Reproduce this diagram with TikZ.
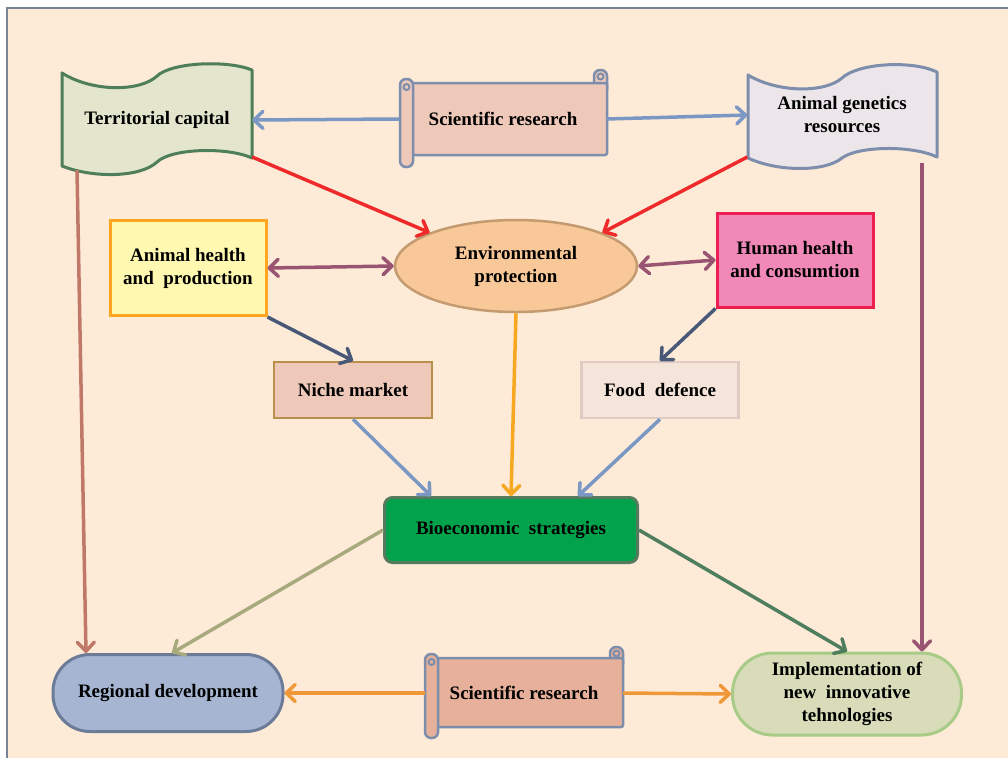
\documentclass[tikz,border=0pt]{standalone}
\usepackage{fontspec}
\setmainfont{Liberation Serif}
\usetikzlibrary{arrows.meta,shapes.geometric}
\definecolor{bgc}{HTML}{FDEBD8}
\definecolor{framec}{HTML}{7A8498}
\definecolor{scrollc}{HTML}{7D8EAC}
\definecolor{tcfill}{HTML}{E3E5CD}
\definecolor{tcdraw}{HTML}{4E7E5A}
\definecolor{srfillA}{HTML}{EEC9BA}
\definecolor{srfillB}{HTML}{E6B09A}
\definecolor{agfill}{HTML}{ECE6EA}
\definecolor{envfill}{HTML}{F8C898}
\definecolor{envdraw}{HTML}{C49A70}
\definecolor{ahfill}{HTML}{FFF8B0}
\definecolor{ahdraw}{HTML}{FFA51F}
\definecolor{hhfill}{HTML}{F088B8}
\definecolor{hhdraw}{HTML}{EE1E50}
\definecolor{nmfill}{HTML}{EEC8B8}
\definecolor{nmdraw}{HTML}{B8904C}
\definecolor{fdfill}{HTML}{F4E4DA}
\definecolor{fddraw}{HTML}{DFCBC3}
\definecolor{biofill}{HTML}{00A24C}
\definecolor{biodraw}{HTML}{557A5E}
\definecolor{rdfill}{HTML}{A6B6D2}
\definecolor{rddraw}{HTML}{6C7C98}
\definecolor{imfill}{HTML}{D8DCB8}
\definecolor{imdraw}{HTML}{A8CC88}
\definecolor{cblue}{HTML}{7B98C4}
\definecolor{cred}{HTML}{EE2A2A}
\definecolor{cmaroon}{HTML}{985470}
\definecolor{cslate}{HTML}{4A5878}
\definecolor{corange}{HTML}{F8A820}
\definecolor{cbrown}{HTML}{C07868}
\definecolor{colive}{HTML}{A8AA7E}
\definecolor{cgreen}{HTML}{4E7E5E}
\definecolor{corangeB}{HTML}{F09838}
% scroll: #1 left x, #2 right x, #3 curl top, #4 body top, #5 body bottom, #6 roll bottom, #7 fill
\newcommand\myscroll[7]{%
  \filldraw[fill=#7, draw=scrollc, line width=2.5pt, rounded corners=6pt]
    ({#2-13},#3) rectangle (#2,{#4+12});
  \filldraw[fill=#7, draw=scrollc, line width=2.5pt, rounded corners=2pt]
    ({#1+6},#4) rectangle (#2,#5);
  \filldraw[fill=#7, draw=scrollc, line width=2.5pt, rounded corners=6pt]
    (#1,{#4-4}) rectangle ({#1+13},#6);
  \draw[scrollc, line width=2pt] ({#1+6.5},{#4+4}) circle[radius=3pt];
  \draw[scrollc, line width=2pt] ({#2-6.5},{#3+6.5}) circle[radius=3pt];
}
\begin{document}
\begin{tikzpicture}[x=1pt,y=-1pt,
  every node/.style={font=\fontsize{19}{23}\selectfont\bfseries, align=center, inner sep=0pt},
  conn/.style={line width=3.5pt, -{Straight Barb[length=9pt,width=17pt,round]}},
  dconn/.style={line width=3.5pt, {Straight Barb[length=9pt,width=17pt,round]}-{Straight Barb[length=9pt,width=17pt,round]}},
  boxA/.style={rectangle, line width=3pt},
  pill/.style={rectangle, rounded corners=37pt, line width=3pt}]
\useasboundingbox (0,0) rectangle (1008,758);
\fill[bgc] (7,8) rectangle (1008,758);
\draw[framec, line width=2pt] (7,758) -- (7,8) -- (1008,8);

% wave flags
\filldraw[fill=tcfill, draw=tcdraw, line width=3pt, line join=round]
  (62,73) .. controls (92,92) and (140,92) .. (157,76)
  .. controls (172,62) and (228,60) .. (252,70) -- (252,158)
  .. controls (228,147) and (172,148) .. (157,162)
  .. controls (140,178) and (92,178) .. (62,166) -- cycle;
\filldraw[fill=agfill, draw=scrollc, line width=3pt, line join=round]
  (748,75) .. controls (778,93) and (825,93) .. (842,78)
  .. controls (858,63) and (912,60) .. (937,72) -- (937,157)
  .. controls (912,145) and (858,146) .. (842,158)
  .. controls (825,172) and (778,172) .. (748,158) -- cycle;

% scrolls
\myscroll{400}{607}{70}{83}{155}{167}{srfillA}
\myscroll{425}{623}{647}{658}{727}{738}{srfillB}

% text nodes
\node[minimum width=190pt, minimum height=100pt] (tc) at (157,120) {Territorial capital};
\node[minimum width=207pt, minimum height=72pt] (sr1) at (503,119) {Scientific research};
\node[minimum width=189pt, minimum height=90pt] (ag) at (842,115) {Animal genetics\\resources};
\node[ellipse, fill=envfill, draw=envdraw, line width=2.5pt, minimum width=242pt, minimum height=92pt] (env) at (516,266) {Environmental\\protection};
\node[boxA, fill=ahfill, draw=ahdraw, minimum width=156pt, minimum height=95pt] (ahp) at (188,268) {Animal health\\and~ production};
\node[boxA, fill=hhfill, draw=hhdraw, minimum width=156pt, minimum height=94pt] (hhc) at (795,260) {Human health\\and consumtion};
\node[boxA, fill=nmfill, draw=nmdraw, line width=2.5pt, minimum width=158pt, minimum height=56pt] (nm) at (353,390) {Niche market};
\node[boxA, fill=fdfill, draw=fddraw, line width=2.5pt, minimum width=157pt, minimum height=56pt] (fd) at (660,390) {Food~ defence};
\node[boxA, rounded corners=8pt, fill=biofill, draw=biodraw, minimum width=253pt, minimum height=65pt] (bio) at (511,530) {Bioeconomic~ strategies};
\node[pill, fill=rdfill, draw=rddraw, minimum width=230pt, minimum height=77pt] (rd) at (168,693) {Regional development};
\node[minimum width=198pt, minimum height=70pt] (sr2) at (524,693) {Scientific research};
\node[pill, rounded corners=40pt, fill=imfill, draw=imdraw, minimum width=229pt, minimum height=82pt] (im) at (847,694) {Implementation of\\new~ innovative\\tehnologies};

% connectors
\draw[conn, cblue] (sr1.west) -- (tc.east);
\draw[conn, cblue] (sr1.east) -- (ag.west);
\draw[conn, cred] ([yshift=-37pt]tc.east) -- (env.north west);
\draw[conn, cred] ([yshift=-42pt]ag.west) -- (env.north east);
\draw[dconn, cmaroon] (ahp.east) -- (env.west);
\draw[dconn, cmaroon] (env.east) -- (hhc.west);
\draw[conn, cslate] (ahp.south east) -- (nm.north);
\draw[conn, cslate] (hhc.south west) -- (fd.north);
\draw[conn, cblue] (nm.south) -- ([xshift=-80pt]bio.north);
\draw[conn, corange] (env.south) -- (bio.north);
\draw[conn, cblue] (fd.south) -- ([xshift=67pt]bio.north);
\draw[conn, cbrown] ([xshift=-80pt]tc.south) -- ([xshift=-82pt]rd.north);
\draw[conn, cmaroon] ([xshift=80pt,yshift=-3pt]ag.south) -- ([xshift=75pt]im.north);
\draw[conn, colive] (bio.west) -- ([xshift=4pt]rd.north);
\draw[conn, cgreen] (bio.east) -- (im.north);
\draw[conn, corangeB] (sr2.west) -- (rd.east);
\draw[conn, corangeB] (sr2.east) -- (im.west);
\end{tikzpicture}
\end{document}
